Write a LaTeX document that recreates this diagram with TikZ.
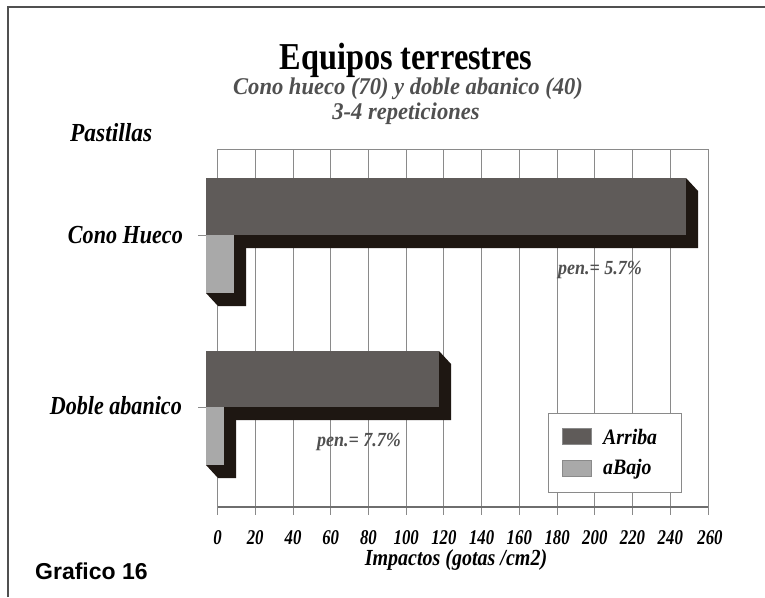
\documentclass[tikz,border=0pt]{standalone}
\usepackage{fontspec}
\setmainfont{Liberation Serif}
\newfontfamily\grafsans{Liberation Sans}
\usepackage{tikz}

\definecolor{arriba}{HTML}{5F5B59}
\definecolor{abajo}{HTML}{A9A9A9}
\definecolor{sombra}{HTML}{1E1712}
\definecolor{marco}{HTML}{505050}
\definecolor{gris}{HTML}{8A8A8A}
\definecolor{gristexto}{HTML}{505050}

% texto estrecho
\newcommand{\angosto}[2]{\scalebox{#1}[1]{#2}}

\begin{document}
\begin{tikzpicture}[
      x=1pt,y=-1pt,
      titulo/.style={
        font=\fontsize{38}{38}\selectfont\bfseries,
        inner sep=0pt,
        anchor=base
      },
      subtitulo/.style={
        font=\fontsize{24}{24}\selectfont\bfseries\itshape,
        text=gristexto,
        inner sep=0pt,
        anchor=base
      },
      rotulo/.style={
        font=\fontsize{26}{26}\selectfont\bfseries\itshape,
        inner sep=0pt
      },
      valor/.style={
        font=\fontsize{21}{21}\selectfont\bfseries\itshape,
        inner sep=0pt,
        anchor=base
      },
      pen/.style={
        font=\fontsize{20}{20}\selectfont\bfseries\itshape,
        text=gristexto,
        inner sep=0pt,
        anchor=base west
      },
      leyenda/.style={
        font=\fontsize{22}{22}\selectfont\bfseries\itshape,
        inner sep=0pt,
        anchor=base west
      },
      caja/.style={
        draw=gris,
        fill=white,
        line width=0.8pt,
        minimum width=133pt,
        minimum height=79pt,
        inner sep=0pt
      },
      muestra/.style={
        draw=gris,
        line width=0.5pt,
        minimum width=29pt,
        minimum height=16pt,
        inner sep=0pt
      }
    ]
      \useasboundingbox (0,0) rectangle (765,597);
      \fill[white] (0,0) rectangle (765,597);
      \draw[marco,line width=2.5pt] (8,597) -- (8,7) -- (765,7);

      \node (tit) at (406,69) [titulo]{\angosto{0.85}{Equipos terrestres}};
      \node (sub1) at (408,94) [subtitulo]{\angosto{0.94}{Cono hueco (70) y doble abanico (40)}};
      \node (sub2) at (406,119) [subtitulo]{\angosto{0.94}{3-4 repeticiones}};
      \node (past) at (70,141) [rotulo,anchor=base west]{\angosto{0.9}{Pastillas}};

      % rejilla y eje
      \draw[gris,line width=1pt] (217.5,149) -- (708,149);
      \draw[gris,line width=1pt]
        (217.5,149) -- (217.5,515) (255.2,149) -- (255.2,515)
        (293.0,149) -- (293.0,515) (330.7,149) -- (330.7,515)
        (368.4,149) -- (368.4,515) (406.2,149) -- (406.2,515)
        (443.9,149) -- (443.9,515) (481.6,149) -- (481.6,515)
        (519.3,149) -- (519.3,515) (557.1,149) -- (557.1,515)
        (594.8,149) -- (594.8,515) (632.5,149) -- (632.5,515)
        (670.3,149) -- (670.3,515) (708.0,149) -- (708.0,515);
      \draw[gris!80!black,line width=1.5pt] (217.5,507) -- (708,507);

      % barras
      \fill[sombra] (686,178) -- (698,191) -- (698,248) -- (218,248) -- (206,235) -- (686,235) -- cycle;
      \fill[arriba] (206,178) rectangle (686,235);
      \fill[sombra] (234,235) -- (246,248) -- (246,306) -- (218,306) -- (206,293) -- (234,293) -- cycle;
      \fill[abajo] (206,235) rectangle (234,293);

      \fill[sombra] (439,351) -- (451,364) -- (451,420) -- (218,420) -- (206,407) -- (439,407) -- cycle;
      \fill[arriba] (206,351) rectangle (439,407);
      \fill[sombra] (224,407) -- (236,420) -- (236,478) -- (218,478) -- (206,465) -- (224,465) -- cycle;
      \fill[abajo] (206,407) rectangle (224,465);

      \draw[gris,line width=1pt] (198,235) -- (206,235);
      \draw[gris,line width=1pt] (198,407) -- (206,407);

      \node (cono) at (183,243) [rotulo,anchor=base east]{\angosto{0.85}{Cono Hueco}};
      \node (doble) at (182,414) [rotulo,anchor=base east]{\angosto{0.85}{Doble abanico}};

      \node (pen1) at (558,274) [pen]{\angosto{0.9}{pen.= 5.7\%}};
      \node (pen2) at (317,446) [pen]{\angosto{0.9}{pen.= 7.7\%}};

      % leyenda
      \node (ley) at (614.5,452.5) [caja]{};
      \node (m1) at (576.5,436) [muestra,fill=arriba]{};
      \node (m2) at (576.5,468) [muestra,fill=abajo]{};
      \node (l1) at (603,444) [leyenda]{\angosto{0.9}{Arriba}};
      \node (l2) at (603,474) [leyenda]{\angosto{0.9}{aBajo}};

      % valores del eje
      \node (v0) at (217.5,544) [valor]{\angosto{0.8}{0}};
      \node (v20) at (255.2,544) [valor]{\angosto{0.8}{20}};
      \node (v40) at (293.0,544) [valor]{\angosto{0.8}{40}};
      \node (v60) at (330.7,544) [valor]{\angosto{0.8}{60}};
      \node (v80) at (368.4,544) [valor]{\angosto{0.8}{80}};
      \node (v100) at (406.2,544) [valor]{\angosto{0.8}{100}};
      \node (v120) at (443.9,544) [valor]{\angosto{0.8}{120}};
      \node (v140) at (481.6,544) [valor]{\angosto{0.8}{140}};
      \node (v160) at (519.3,544) [valor]{\angosto{0.8}{160}};
      \node (v180) at (557.1,544) [valor]{\angosto{0.8}{180}};
      \node (v200) at (594.8,544) [valor]{\angosto{0.8}{200}};
      \node (v220) at (632.5,544) [valor]{\angosto{0.8}{220}};
      \node (v240) at (670.3,544) [valor]{\angosto{0.8}{240}};
      \node (v260) at (710,544) [valor]{\angosto{0.8}{260}};
      \node (eje) at (456,565) [valor,font=\fontsize{23}{23}\selectfont\bfseries\itshape]{\angosto{0.87}{Impactos (gotas /cm2)}};

      \node (graf) at (35,579) [anchor=base west,inner sep=0pt,font=\grafsans\fontsize{23}{23}\selectfont\bfseries]{Grafico 16};
    \end{tikzpicture}
\end{document}
